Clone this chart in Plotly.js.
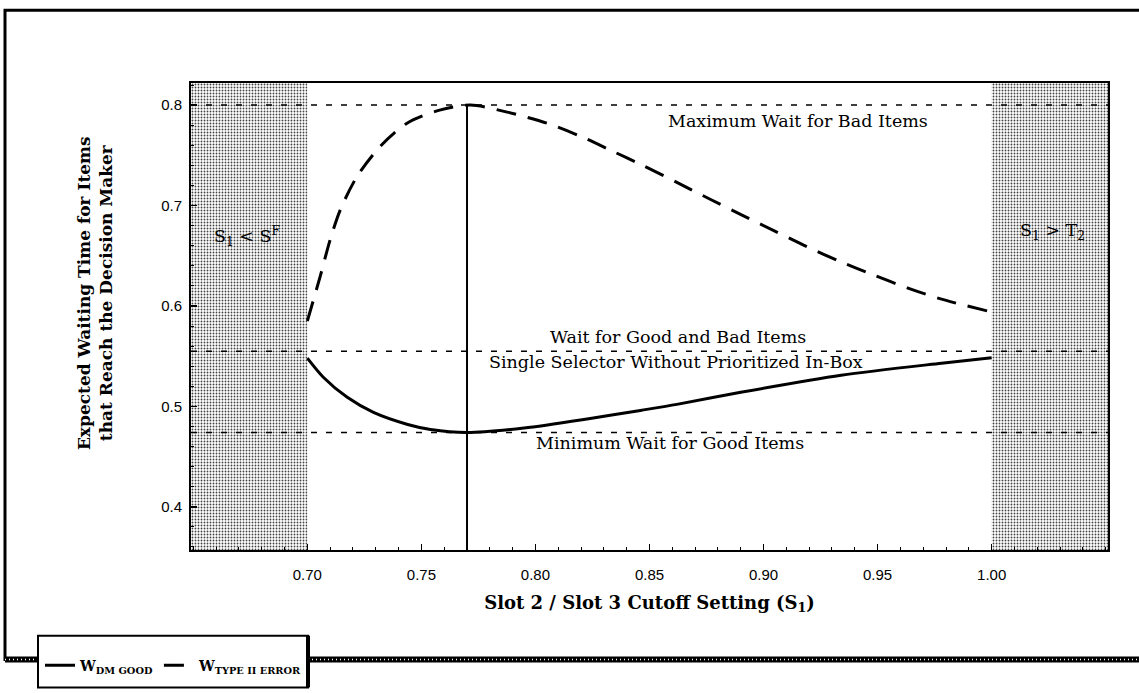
<!DOCTYPE html>
<html>
<head>
<meta charset="utf-8">
<script src="https://cdn.plot.ly/plotly-3.0.1.min.js"></script>
<style>html,body{margin:0;padding:0;background:#fff;}#chart{width:1139px;height:693px;}</style>
</head>
<body>
<div id="chart"></div>
<script>
// ---- data ----
const s1Good = [0.700, 0.707, 0.7175, 0.729, 0.744, 0.754, 0.770, 0.795, 0.824, 0.846, 0.862, 0.890, 0.934, 0.978, 1.000];
const wGood  = [0.548, 0.529, 0.509, 0.494, 0.482, 0.477, 0.474, 0.4785, 0.488, 0.496, 0.502, 0.514, 0.531, 0.543, 0.5485];

const s1Bad = [0.700, 0.7057, 0.710, 0.7145, 0.7218, 0.732, 0.7437, 0.758, 0.7715, 0.7876, 0.805, 0.8197, 0.833, 0.847, 0.862, 0.8768, 0.891, 0.9045, 0.919, 0.9338, 0.948, 0.963, 0.9776, 1.000];
const wBad  = [0.585, 0.630, 0.666, 0.696, 0.729, 0.759, 0.782, 0.795, 0.800, 0.793, 0.782, 0.769, 0.755, 0.740, 0.723, 0.706, 0.690, 0.675, 0.659, 0.644, 0.631, 0.618, 0.607, 0.594];

const refLevels = [0.800, 0.555, 0.474];          // max wait bad, single selector, min wait good
const refLabels = ["Maximum Wait for Bad Items", "Wait for Good and Bad Items", "Single Selector Without Prioritized In-Box", "Minimum Wait for Good Items"];
const optimumS1 = [0.77];                         // vertical marker
const optimumTop = [0.80];
const leftInfeasible  = [0.60, 0.70];             // S1 < S^F
const rightInfeasible = [1.00, 1.10];             // S1 > T2
const regionLabels = ["S<sub>1</sub> &lt; S<sup>F</sup>", "S<sub>1</sub> &gt; T<sub>2</sub>"];
const xTicks = [0.70, 0.75, 0.80, 0.85, 0.90, 0.95, 1.00];
const yTicks = [0.4, 0.5, 0.6, 0.7, 0.8];
const xRange = [0.649, 1.051];
const yRange = [0.357, 0.822];
const xTitle = "<b>Slot 2 / Slot 3 Cutoff Setting (S<sub>1</sub>)</b>";
const yTitle = "<b>Expected Waiting Time for Items<br>that Reach the Decision Maker</b>";

const serif = "DejaVu Serif, Liberation Serif, serif";
const sans = "Liberation Sans, Arial, sans-serif";

const pattern = {shape: ".", fgcolor: "#444", bgcolor: "#fff", size: 3, solidity: 0.3};
function band(xs) {
  return {
    x: [xs[0], xs[1], xs[1], xs[0], xs[0]],
    y: [yRange[0] - 1, yRange[0] - 1, yRange[1] + 1, yRange[1] + 1, yRange[0] - 1],
    type: "scatter", mode: "lines", fill: "toself",
    fillpattern: pattern, fillcolor: "#fff",
    line: {width: 0}, showlegend: false, hoverinfo: "skip"
  };
}

const traces = [
  band(leftInfeasible),
  band(rightInfeasible),
  {
    x: s1Good, y: wGood, type: "scatter", mode: "lines",
    name: "<b>W<sub>DM GOOD</sub></b>",
    line: {color: "#000", width: 3, shape: "spline", smoothing: 0.8}
  },
  {
    x: s1Bad, y: wBad, type: "scatter", mode: "lines",
    name: "<b>W<sub>TYPE II ERROR</sub></b>",
    line: {color: "#000", width: 3, dash: "20px,12px", shape: "spline", smoothing: 0.8}
  }
];

// paper coordinate helpers (plot area: x 191..1108, y 83..552)
const px = p => (p - 191) / 917;
const py = p => (552 - p) / 469;

const frameY = 662;
const shapes = [];
refLevels.forEach(v => shapes.push({
  type: "line", xref: "paper", yref: "y", x0: 0, x1: 1, y0: v, y1: v,
  line: {color: "#000", width: 1.5, dash: "6px,9px"}, layer: "above"
}));
optimumS1.forEach((v, i) => shapes.push({
  type: "line", xref: "x", yref: "y", x0: v, x1: v, y0: yRange[0], y1: optimumTop[i],
  line: {color: "#000", width: 2}, layer: "above"
}));
// outer frame
shapes.push({
  type: "path", xref: "paper", yref: "paper",
  path: `M ${px(1145)} ${py(10)} L ${px(5)} ${py(10)} L ${px(5)} ${py(frameY)} L ${px(38)} ${py(frameY)}`,
  line: {color: "#000", width: 3}
});
[[5, 38], [308, 1145]].forEach(seg => {
  shapes.push({type: "line", xref: "paper", yref: "paper", x0: px(seg[0]), x1: px(seg[1]), y0: py(frameY), y1: py(frameY), line: {color: "#000", width: 6}});
  shapes.push({type: "line", xref: "paper", yref: "paper", x0: px(seg[0]), x1: px(seg[1]), y0: py(frameY), y1: py(frameY), line: {color: "#fff", width: 1.5, dash: "1px,3px"}});
});
// legend box
shapes.push({
  type: "rect", xref: "paper", yref: "paper",
  x0: px(38), x1: px(308), y0: py(638), y1: py(690),
  fillcolor: "#fff", line: {color: "#000", width: 2}
});
shapes.push({type: "line", xref: "paper", yref: "paper", x0: px(308), x1: px(308), y0: py(638), y1: py(690), line: {color: "#000", width: 4}});

const annFont = {family: serif, size: 17.5, color: "#000"};
const annotations = [
  {x: 0.915, y: 0.784, text: refLabels[0]},
  {x: 0.8625, y: 0.569, text: refLabels[1]},
  {x: 0.8614, y: 0.5446, text: refLabels[2]},
  {x: 0.859, y: 0.4634, text: refLabels[3]},
  {x: 0.6737, y: 0.669, text: regionLabels[0]},
  {x: 1.0268, y: 0.674, text: regionLabels[1]}
].map(a => Object.assign({xref: "x", yref: "y", showarrow: false, font: annFont, xanchor: "center", yanchor: "middle"}, a));
annotations.push({
  xref: "paper", yref: "paper", x: px(95), y: py(294), text: yTitle, textangle: -90,
  showarrow: false, xanchor: "center", yanchor: "middle",
  font: {family: serif, size: 17, color: "#000"}
});

const layout = {
  width: 1139, height: 693,
  margin: {l: 191, r: 31, t: 83, b: 141},
  paper_bgcolor: "#fff", plot_bgcolor: "#fff",
  showlegend: true,
  legend: {
    orientation: "h", x: px(40), y: py(652), xanchor: "left", yanchor: "top",
    bgcolor: "rgba(0,0,0,0)", borderwidth: 0,
    font: {family: serif, size: 14, color: "#000"},
    itemwidth: 30
  },
  xaxis: {
    range: xRange, tickvals: xTicks, ticktext: xTicks.map(v => v.toFixed(2)),
    ticks: "inside", ticklen: 6, tickwidth: 1.5, tickcolor: "#000",
    minor: {dtick: 0.01, ticks: "inside", ticklen: 3, tickcolor: "#000", tickwidth: 1},
    showline: true, mirror: true, linecolor: "#000", linewidth: 2,
    showgrid: false, zeroline: false, ticklabelstandoff: 10,
    tickfont: {family: sans, size: 15, color: "#000"},
    title: {text: xTitle, font: {family: serif, size: 18, color: "#000"}, standoff: 14},
    automargin: false
  },
  yaxis: {
    range: yRange, tickvals: yTicks, ticktext: yTicks.map(v => v.toFixed(1)),
    ticks: "inside", ticklen: 6, tickwidth: 1.5, tickcolor: "#000",
    minor: {dtick: 0.02, ticks: "inside", ticklen: 3, tickcolor: "#000", tickwidth: 1},
    showline: true, mirror: true, linecolor: "#000", linewidth: 2,
    showgrid: false, zeroline: false, ticklabelstandoff: 4,
    tickfont: {family: sans, size: 15, color: "#000"},
    automargin: false
  },
  shapes: shapes,
  annotations: annotations
};

Plotly.newPlot("chart", traces, layout, {displayModeBar: false, staticPlot: true});
</script>
</body>
</html>
